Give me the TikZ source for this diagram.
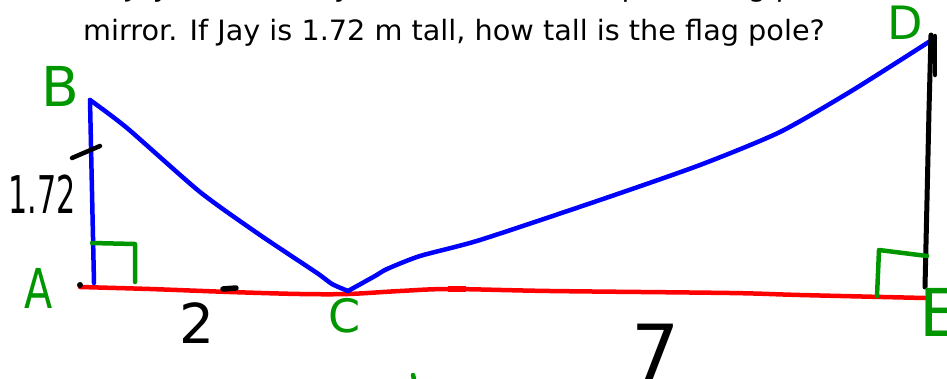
\documentclass[tikz,border=0pt]{standalone}
\usepackage{fontspec}
\setmainfont{DejaVu Sans}
\definecolor{pen}{RGB}{0,150,0}
\begin{document}
\begin{tikzpicture}[x=1pt,y=-1pt,
  redln/.style={draw=red,line width=4.5pt,line cap=round,line join=round},
  blueln/.style={draw=blue,line width=4.5pt,line cap=round,line join=round},
  blackln/.style={draw=black,line width=4.5pt,line cap=round,line join=round},
  greenln/.style={draw=pen,line width=4.5pt,line cap=round,line join=round},
  glab/.style={text=pen,inner sep=0pt},
  blab/.style={text=black,inner sep=0pt},
  qtext/.style={anchor=base west,inner sep=0pt,font=\fontsize{28}{32}\selectfont}]
\useasboundingbox (0,0) rectangle (947,378);
\clip (0,0) rectangle (947,378);
% question text
\node[qtext] (q0) at (87,-4) {\scalebox{1.025}[1]{4. Jay is 2 m away. He can see the top of a flag pole in the}};
\node[qtext] (q1) at (83,40) {\scalebox{1.025}[1]{mirror. If Jay is 1.72 m tall, how tall is the flag pole?}};
% points
\coordinate (A) at (80,287);
\coordinate (Ab) at (94,283);
\coordinate (B) at (90,100);
\coordinate (C) at (348,291);
\coordinate (D) at (935,38);
\coordinate (Dt) at (931,35);
\coordinate (E) at (925,298);
\coordinate (Eb) at (925,287);
% ground
\draw[redln] plot[smooth,tension=0.5] coordinates {(A) (150,289) (230,292) (300,294) (348,294) (400,291) (450,289) (550,291) (730,293) (800,295) (E)};
\draw[red,line width=6pt] (448,289) -- (466,289);
\fill[black] (80,285) circle (3);
\draw[blackln,line width=5.5pt] (223,289) -- (236,288);
% Jay
\draw[blueln] (B) -- (Ab);
\draw[blueln] plot[smooth,tension=0.4] coordinates {(B) (127,128) (200,192) (260,235) (317,273) (332,284) (C)};
\draw[blueln] plot[smooth,tension=0.4] coordinates {(C) (375,276) (387,269) (420,256) (480,240) (600,200) (700,165) (780,132) (853,90) (D)};
% pole
\draw[blackln,line width=5pt] (Dt) -- (929,110) -- (927,200) -- (Eb);
\draw[blackln] (935,36) -- (935,75);
% right angles
\draw[greenln] (92,243) -- (135,244) -- (135,282);
\draw[greenln] (877,296) -- (879,250) -- (927,256);
% tick on AB
\draw[blackln] (72,158) -- (100,146);
% labels
\node[glab,font=\fontsize{55}{55}\selectfont] (lB) at (60,86) {B};
\node[glab,font=\fontsize{55}{55}\selectfont] (lA) at (39,288) {\scalebox{0.75}[1]{A}};
\node[glab,font=\fontsize{46}{46}\selectfont] (lC) at (345,316) {C};
\node[glab,font=\fontsize{46}{46}\selectfont] (lD) at (905,23) {D};
\node[glab,font=\fontsize{66}{66}\selectfont] (lE) at (940,312) {E};
\node[blab,font=\fontsize{52}{52}\selectfont] (l172) at (42,194) {\scalebox{0.58}[1]{1.72}};
\node[blab,font=\fontsize{55}{55}\selectfont] (l2) at (197,323) {2};
\node[blab,font=\fontsize{76}{76}\selectfont] (l7) at (656,352) {7};
\draw[greenln] (413,375) -- (414,379);
\end{tikzpicture}
\end{document}
